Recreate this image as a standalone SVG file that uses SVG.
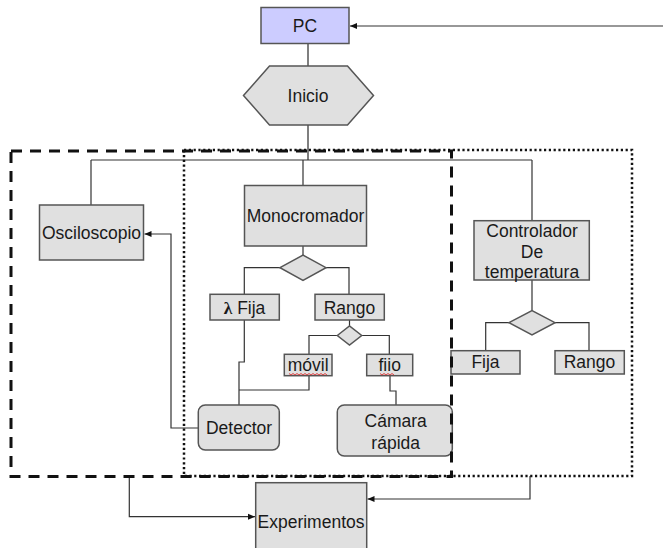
<svg xmlns="http://www.w3.org/2000/svg" width="663" height="548" viewBox="0 0 663 548">
<style>
.box{fill:#e0e0e0;stroke:#555;stroke-width:1.5}
.pc{fill:#ccccff;stroke:#555;stroke-width:1.5}
.t{font-family:"Liberation Sans",Arial,sans-serif;font-size:17.5px;fill:#1a1a1a;text-anchor:middle}
.c{fill:none;stroke:#333;stroke-width:1.2}
.g{fill:none;stroke:#555;stroke-width:1.5}
.sq{fill:none;stroke:#e03030;stroke-width:0.9}
</style>
<defs>
<marker id="ah" markerUnits="userSpaceOnUse" markerWidth="8" markerHeight="8" refX="7" refY="4" orient="auto">
<path d="M0,1 L7,4 L0,7 Z" fill="#111"/>
</marker>
</defs>
<rect width="663" height="548" fill="#fff"/>

<g id="connectors">
<path class="c" d="M663,26 H350" marker-end="url(#ah)"/>
<path class="g" d="M308,43.5 V66"/>
<path class="g" d="M308,125 V160"/>
<path class="c" d="M91,160 H532"/>
<path class="c" d="M91,160 V205"/>
<path class="c" d="M303,160 V185.5"/>
<path class="c" d="M532,160 V220.7"/>
<path class="c" d="M303,246 V255"/>
<path class="c" d="M280,267.7 H244.3 V294.3"/>
<path class="c" d="M326,267.7 H349 V294.3"/>
<path class="c" d="M349.5,320 V326"/>
<path class="c" d="M337.3,335.5 H309 V354.3"/>
<path class="c" d="M361.7,335.5 H389.3 V354.3"/>
<path class="c" d="M244.3,320 V362 H239 V405"/>
<path class="c" d="M309,375.7 V390 H239"/>
<path class="c" d="M390,375.7 V391 H396 V405"/>
<path class="c" d="M198.3,428 H171 V234 H144.5" marker-end="url(#ah)"/>
<path class="c" d="M532,280 V310.7"/>
<path class="c" d="M509,322.7 H485.7 V350.7"/>
<path class="c" d="M555,322.7 H589 V350.7"/>
<path class="c" d="M129.3,476.5 V516.7 H255" marker-end="url(#ah)"/>
<path class="c" d="M530,476 V499 H367.5" marker-end="url(#ah)"/>
</g>

<g id="pc"><rect class="pc" x="261" y="7.5" width="88" height="36"/><text class="t" x="305" y="32">PC</text></g>
<g id="inicio"><polygon class="box" points="243.5,95.5 269.5,66 347.5,66 373.5,95.5 347.5,125 269.5,125"/><text class="t" x="308" y="102">Inicio</text></g>
<g id="osciloscopio"><rect class="box" x="39.5" y="205" width="104" height="55"/><text class="t" x="91.5" y="239">Osciloscopio</text></g>
<g id="monocromador"><rect class="box" x="244.5" y="185.5" width="122" height="60.5"/><text class="t" x="305.5" y="222">Monocromador</text></g>
<g id="dec-mono"><polygon class="box" points="280,267.7 303,255 326,267.7 303,280.3"/></g>
<g id="lambda-fija"><rect class="box" x="210" y="294.3" width="69.3" height="25.7"/><text class="t" x="244.5" y="313.5"><tspan font-family="'Liberation Serif',serif" font-weight="bold">λ</tspan> Fija</text></g>
<g id="rango-mono"><rect class="box" x="315" y="294.3" width="69.3" height="25.7"/><text class="t" x="349.5" y="313.5">Rango</text></g>
<g id="dec-rango"><polygon class="box" points="337.3,335.5 349.5,326 361.7,335.5 349.5,345"/></g>
<g id="movil"><rect class="box" x="284.3" y="354.3" width="47.7" height="21.4"/><text class="t" x="308.2" y="371">móvil</text><path class="sq" d="M289,373.5 l2,1.5 l2,-1.5 l2,1.5 l2,-1.5 l2,1.5 l2,-1.5 l2,1.5 l2,-1.5 l2,1.5 l2,-1.5 l2,1.5 l2,-1.5 l2,1.5 l2,-1.5 l2,1.5 l2,-1.5 l2,1.5 l2,-1.5 l2,1.5"/></g>
<g id="fiio"><rect class="box" x="366.7" y="354.3" width="46" height="21.4"/><text class="t" x="389.7" y="371">fiio</text><path class="sq" d="M380,373.5 l2,1.5 l2,-1.5 l2,1.5 l2,-1.5 l2,1.5 l2,-1.5 l2,1.5"/></g>
<g id="detector"><rect class="box" x="198.3" y="405" width="81" height="45" rx="7"/><text class="t" x="239" y="434">Detector</text></g>
<g id="camara"><rect class="box" x="337.3" y="405" width="115" height="51" rx="7"/><text class="t" x="395.7" y="427">Cámara</text><text class="t" x="395.7" y="449">rápida</text></g>
<g id="controlador"><rect class="box" x="474" y="220.7" width="115.3" height="59.3"/><text class="t" x="532" y="237">Controlador</text><text class="t" x="532" y="257.5">De</text><text class="t" x="532" y="278">temperatura</text></g>
<g id="dec-temp"><polygon class="box" points="509,322.7 532,310.7 555,322.7 532,335"/></g>
<g id="fija"><rect class="box" x="451" y="350.7" width="69" height="23.3"/><text class="t" x="485.5" y="368">Fija</text></g>
<g id="rango-temp"><rect class="box" x="555" y="350.7" width="69.3" height="23.3"/><text class="t" x="589.5" y="368">Rango</text></g>
<g id="experimentos"><rect class="box" x="255.7" y="482.7" width="111" height="80"/><text class="t" x="311" y="528">Experimentos</text></g>

<g id="groups">
<rect x="184" y="150" width="448" height="326" fill="none" stroke="#111" stroke-width="2.5" stroke-dasharray="2.2 2.6"/>
<rect x="11" y="151" width="440.5" height="325.5" fill="none" stroke="#111" stroke-width="3" stroke-dasharray="11 8"/>
</g>
</svg>
